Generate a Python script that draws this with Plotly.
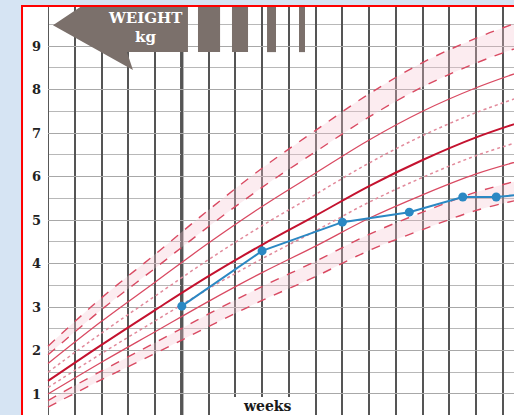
import plotly.graph_objects as go

# ---------------- data ----------------
weeks = [30, 34, 38, 42, 46, 50, 54, 58, 62, 66]
c04 = [0.70, 1.33, 1.93, 2.55, 3.15, 3.70, 4.30, 4.78, 5.22, 5.52]
c2 = [0.85, 1.53, 2.18, 2.84, 3.47, 4.05, 4.67, 5.18, 5.64, 5.97]
c9 = [1.00, 1.73, 2.43, 3.13, 3.79, 4.40, 5.04, 5.58, 6.06, 6.42]
c25 = [1.15, 1.93, 2.68, 3.42, 4.11, 4.75, 5.41, 5.98, 6.48, 6.87]
c50 = [1.30, 2.13, 2.93, 3.71, 4.43, 5.10, 5.78, 6.38, 6.90, 7.32]
c75 = [1.50, 2.40, 3.25, 4.09, 4.87, 5.59, 6.31, 6.94, 7.47, 7.90]
c91 = [1.70, 2.67, 3.57, 4.47, 5.31, 6.08, 6.84, 7.50, 8.04, 8.48]
c98 = [1.90, 2.94, 3.89, 4.85, 5.75, 6.57, 7.37, 8.06, 8.61, 9.06]
c996 = [2.10, 3.21, 4.21, 5.23, 6.19, 7.06, 7.90, 8.62, 9.18, 9.64]

visit_weeks = [40, 46, 52, 57, 61, 63.5, 66]
visit_kg = [3.02, 4.29, 4.95, 5.18, 5.53, 5.53, 5.60]

y_ticks = [1, 2, 3, 4, 5, 6, 7, 8, 9]
y_labels = ["1", "2", "3", "4", "5", "6", "7", "8", "9"]

# ---------------- styles ----------------
RED_DARK = "#c4122f"
RED = "#d94a62"
RED_LIGHT = "#e28a9b"
PINK = "rgba(247, 196, 208, 0.32)"
BLUE = "#2b88c3"
GREY_BAR = "#7b706b"
SERIF = "DejaVu Serif"

fig = go.Figure()

# shaded bands
for lo, hi in [(c04, c2), (c98, c996)]:
    fig.add_trace(go.Scatter(x=weeks, y=lo, mode="lines", line=dict(width=0, shape="spline"),
                             hoverinfo="skip", showlegend=False))
    fig.add_trace(go.Scatter(x=weeks, y=hi, mode="lines", line=dict(width=0, shape="spline"),
                             fill="tonexty", fillcolor=PINK, hoverinfo="skip", showlegend=False))

styles = [
    (c04, RED, "dash", 1.4),
    (c2, RED, "dash", 1.4),
    (c9, RED, "solid", 1.3),
    (c25, RED_LIGHT, "dot", 1.5),
    (c50, RED_DARK, "solid", 2.0),
    (c75, RED_LIGHT, "dot", 1.5),
    (c91, RED, "solid", 1.3),
    (c98, RED, "dash", 1.4),
    (c996, RED, "dash", 1.4),
]
for ys, col, dash, w in styles:
    fig.add_trace(go.Scatter(x=weeks, y=ys, mode="lines",
                             line=dict(color=col, dash=dash, width=w, shape="spline"),
                             showlegend=False))

fig.add_trace(go.Scatter(x=visit_weeks, y=visit_kg, mode="lines+markers",
                         line=dict(color=BLUE, width=2),
                         marker=dict(color=BLUE, size=9),
                         showlegend=False))

# ---------------- decorations ----------------
shapes = []
# white mask left of the first week line (hides horizontal grid there)
shapes.append(dict(type="rect", xref="x", yref="y", x0=27, x1=30, y0=0, y1=11,
                   fillcolor="white", line=dict(width=0), layer="between"))
# white mask behind "weeks"
shapes.append(dict(type="rect", xref="x", yref="y", x0=43.5, x1=48.9, y0=0, y1=0.93,
                   fillcolor="white", line=dict(width=0), layer="between"))
# thick term line at 40 weeks
shapes.append(dict(type="line", xref="x", yref="paper", x0=40, x1=40, y0=0, y1=1,
                   line=dict(color="#111111", width=3), layer="between"))
# WEIGHT arrow
shapes.append(dict(type="path", xref="x", yref="y",
                   path="M 30.37 9.48 L 33.89 10.2 L 40.46 10.2 L 40.46 8.86 "
                        "L 35.90 8.86 L 36.35 8.45 Z",
                   fillcolor=GREY_BAR, line=dict(width=0), layer="above"))
for x0, x1 in [(41.21, 42.86), (43.75, 44.95), (46.37, 47.04), (48.76, 49.21)]:
    shapes.append(dict(type="rect", xref="x", yref="y", x0=x0, x1=x1, y0=8.86, y1=10.2,
                       fillcolor=GREY_BAR, line=dict(width=0), layer="above"))
# red frame
shapes.append(dict(type="rect", xref="paper", yref="paper", x0=-0.002, x1=1.05, y0=-0.05,
                   y1=1.0025, line=dict(color="#ff0000", width=2), fillcolor="rgba(0,0,0,0)",
                   layer="above"))

annotations = [
    dict(x=37.25, y=9.64, xref="x", yref="y", text="<b>WEIGHT</b>", showarrow=False,
         font=dict(family=SERIF, size=15, color="white")),
    dict(x=37.25, y=9.2, xref="x", yref="y", text="<b>kg</b>", showarrow=False,
         font=dict(family=SERIF, size=15, color="white")),
    dict(x=46.37, y=0.72, xref="x", yref="y", text="<b>weeks</b>", showarrow=False,
         font=dict(family=SERIF, size=14, color="#1a1a1a")),
]

fig.update_layout(
    width=514, height=415,
    margin=dict(l=23, r=0, t=7, b=0),
    paper_bgcolor="#d6e4f3",
    plot_bgcolor="white",
    shapes=shapes,
    annotations=annotations,
    showlegend=False,
)
fig.update_xaxes(range=[28.13, 64.83], tick0=30, dtick=2, showticklabels=False,
                 showgrid=True, gridcolor="#555555", gridwidth=2, zeroline=False,
                 showline=False, ticks="")
fig.update_yaxes(range=[0.517, 9.897], tickvals=y_ticks, ticktext=y_labels,
                 ticklabelposition="inside", ticklabelstandoff=6,
                 tickfont=dict(family=SERIF, size=13, color="#222222", weight="bold"),
                 showgrid=True, gridcolor="#a8a8a8", gridwidth=1,
                 minor=dict(dtick=0.5, showgrid=True, gridcolor="#b8b8b8", gridwidth=1),
                 zeroline=False, showline=False, ticks="")

fig.write_html("out.html", config={"displayModeBar": False},
               post_script="document.body.style.margin='0';document.body.style.overflow='hidden';")
